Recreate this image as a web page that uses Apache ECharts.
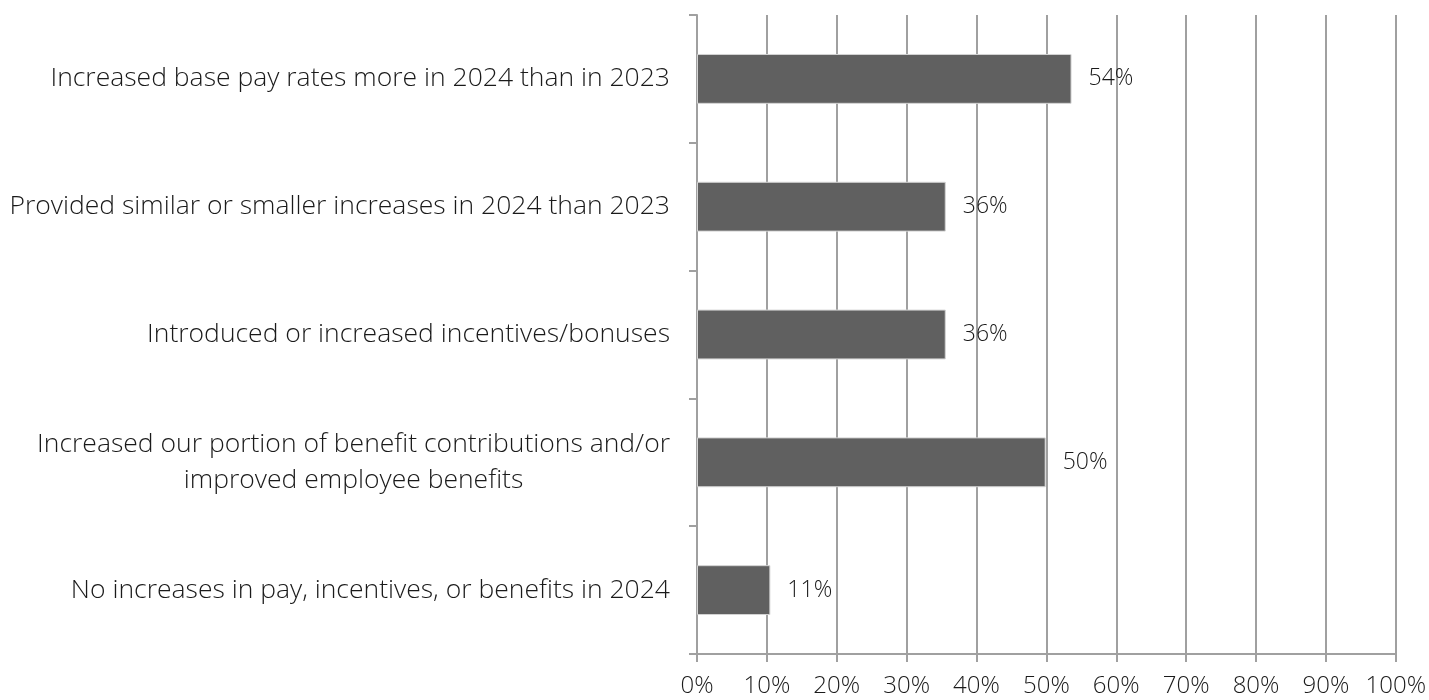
<!DOCTYPE html>
<html><head><meta charset="utf-8">
<script src="https://cdn.jsdelivr.net/npm/echarts@6/dist/echarts.min.js"></script>
<style>html,body{margin:0;padding:0;background:#fff}#c{width:1429px;height:700px}</style>
</head><body><div id="c"></div>
<script>
const categories = [
  "Increased base pay rates more in 2024 than in 2023",
  "Provided similar or smaller increases in 2024 than 2023",
  "Introduced or increased incentives/bonuses",
  "Increased our portion of benefit contributions and/or\nimproved employee benefits",
  "No increases in pay, incentives, or benefits in 2024"
];
const values = [53.6, 35.6, 35.6, 49.9, 10.5];
const xTicks = [0,10,20,30,40,50,60,70,80,90,100];

const FONT = '"Open Sans", "Noto Sans", sans-serif';
const chart = echarts.init(document.getElementById('c'));
chart.setOption({
  animation: false,
  grid: {left: 697, right: 32, top: 15, bottom: 46, containLabel: false},
  xAxis: {
    type: 'value', min: 0, max: 100, interval: 10,
    axisLine: {show: true, lineStyle: {color: '#a0a0a0', width: 2}},
    axisTick: {show: true, length: 8, lineStyle: {color: '#a0a0a0', width: 2}},
    splitLine: {show: true, lineStyle: {color: '#a0a0a0', width: 2}},
    axisLabel: {formatter: v => xTicks.includes(v) ? v + '%' : '', color: '#1a1a1a', fontSize: 24, fontFamily: FONT, fontWeight: 300, margin: 20}
  },
  yAxis: {
    type: 'category', data: categories, inverse: true,
    axisLine: {show: true, lineStyle: {color: '#a0a0a0', width: 2}},
    axisTick: {show: true, length: 8, lineStyle: {color: '#a0a0a0', width: 2}},
    axisLabel: {
      color: '#1a1a1a', fontSize: 26.5, fontFamily: FONT, fontWeight: 300, margin: 27,
      formatter: v => v.split('\n').map(s => '{c|' + s + '}').join('\n'),
      rich: {c: {align: 'center', color: '#1a1a1a', fontSize: 26.5, fontFamily: FONT, fontWeight: 300, lineHeight: 36}}
    }
  },
  series: [{
    type: 'bar', data: values, barCategoryGap: '61%',
    itemStyle: {color: '#606060', borderColor: '#d4d4d4', borderWidth: 1},
    label: {show: true, position: 'right', distance: 17, color: '#1a1a1a', fontSize: 23, fontFamily: FONT, fontWeight: 300,
      formatter: p => Math.round(p.value) + '%'}
  }]
});
</script></body></html>
